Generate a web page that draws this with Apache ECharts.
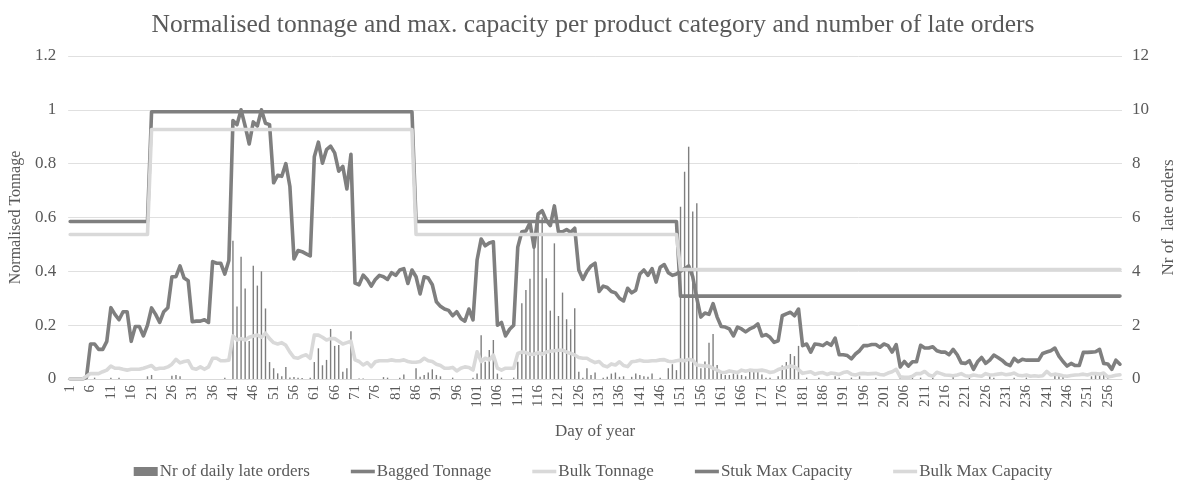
<!DOCTYPE html>
<html>
<head>
<meta charset="utf-8">
<script src="https://cdn.jsdelivr.net/npm/echarts@6/dist/echarts.min.js"></script>
<style>
  html, body { margin: 0; padding: 0; background: #ffffff; }
  #chart { width: 1186px; height: 487px; }
</style>
</head>
<body>
<div id="chart"></div>
<script>
// Day of year, 1..259
const days = [];
for (let d = 1; d <= 259; d++) days.push(String(d));

// Normalised bagged tonnage per day
const baggedTonnage = [
  0, 0, 0, 0, 0.005, 0.13, 0.13, 0.11, 0.11, 0.14,
  0.265, 0.24, 0.22, 0.25, 0.25, 0.14, 0.195, 0.195, 0.16, 0.2,
  0.264, 0.24, 0.21, 0.25, 0.265, 0.38, 0.38, 0.42, 0.375, 0.365,
  0.213, 0.215, 0.215, 0.22, 0.21, 0.436, 0.43, 0.43, 0.39, 0.44,
  0.96, 0.945, 1.0, 0.94, 0.873, 0.955, 0.94, 1.0, 0.95, 0.945,
  0.729, 0.757, 0.753, 0.8, 0.715, 0.446, 0.477, 0.473, 0.465, 0.457,
  0.826, 0.88, 0.802, 0.852, 0.865, 0.84, 0.772, 0.79, 0.706, 0.835,
  0.356, 0.35, 0.386, 0.37, 0.345, 0.37, 0.385, 0.38, 0.37, 0.395,
  0.385, 0.405, 0.41, 0.355, 0.405, 0.38, 0.316, 0.38, 0.375, 0.35,
  0.287, 0.27, 0.26, 0.255, 0.235, 0.25, 0.225, 0.215, 0.26, 0.22,
  0.442, 0.52, 0.495, 0.505, 0.51, 0.2, 0.21, 0.16, 0.185, 0.2,
  0.49, 0.547, 0.55, 0.58, 0.49, 0.613, 0.625, 0.59, 0.57, 0.643,
  0.547, 0.547, 0.555, 0.545, 0.56, 0.405, 0.37, 0.4, 0.42, 0.43,
  0.325, 0.345, 0.34, 0.325, 0.32, 0.3, 0.29, 0.337, 0.32, 0.33,
  0.39, 0.405, 0.385, 0.41, 0.36, 0.415, 0.425, 0.395, 0.385, 0.39,
  0.4, 0.41, 0.42, 0.38, 0.3, 0.23, 0.245, 0.24, 0.28, 0.23,
  0.195, 0.193, 0.186, 0.16, 0.193, 0.186, 0.175, 0.186, 0.193, 0.205,
  0.16, 0.165, 0.155, 0.136, 0.142, 0.235, 0.242, 0.248, 0.235, 0.26,
  0.124, 0.13, 0.1, 0.13, 0.128, 0.124, 0.135, 0.125, 0.152, 0.09,
  0.09, 0.087, 0.075, 0.093, 0.105, 0.124, 0.124, 0.128, 0.128, 0.118,
  0.13, 0.124, 0.1, 0.128, 0.045, 0.065, 0.048, 0.064, 0.064, 0.125,
  0.115, 0.115, 0.12, 0.105, 0.1, 0.1, 0.09, 0.11, 0.09, 0.06,
  0.058, 0.068, 0.036, 0.064, 0.08, 0.058, 0.07, 0.089, 0.08, 0.07,
  0.056, 0.05, 0.077, 0.064, 0.073, 0.07, 0.07, 0.07, 0.07, 0.095,
  0.1, 0.105, 0.115, 0.085, 0.065, 0.048, 0.058, 0.05, 0.05, 0.099,
  0.099, 0.1, 0.101, 0.11, 0.058, 0.056, 0.036, 0.07, 0.055
];

// Normalised bulk tonnage per day
const bulkTonnage = [
  0, 0, 0, 0, 0.01, 0.02, 0.02, 0.02, 0.027, 0.033,
  0.048, 0.04, 0.04, 0.036, 0.033, 0.036, 0.036, 0.036, 0.04, 0.045,
  0.05, 0.036, 0.04, 0.04, 0.045, 0.055, 0.073, 0.06, 0.065, 0.068,
  0.04, 0.036, 0.045, 0.036, 0.045, 0.077, 0.077, 0.068, 0.068, 0.07,
  0.16, 0.145, 0.15, 0.145, 0.155, 0.16, 0.163, 0.155, 0.17, 0.15,
  0.135, 0.13, 0.135, 0.125, 0.1, 0.08, 0.077, 0.085, 0.09, 0.077,
  0.163, 0.163, 0.155, 0.145, 0.15, 0.15, 0.14, 0.13, 0.135, 0.14,
  0.071, 0.065, 0.052, 0.061, 0.046, 0.064, 0.068, 0.068, 0.068, 0.071,
  0.068, 0.068, 0.071, 0.065, 0.062, 0.062, 0.065, 0.077, 0.068, 0.065,
  0.055, 0.05, 0.04, 0.04, 0.043, 0.03, 0.04, 0.045, 0.043, 0.033,
  0.101, 0.065, 0.077, 0.071, 0.089, 0.04, 0.033, 0.04, 0.04, 0.04,
  0.095, 0.1, 0.098, 0.092, 0.092, 0.098, 0.092, 0.1, 0.103, 0.105,
  0.107, 0.107, 0.1, 0.095, 0.089, 0.08, 0.077, 0.077, 0.068, 0.061,
  0.065, 0.05, 0.045, 0.056, 0.052, 0.064, 0.05, 0.046, 0.064, 0.066,
  0.07, 0.066, 0.066, 0.068, 0.068, 0.071, 0.072, 0.066, 0.064, 0.068,
  0.07, 0.068, 0.073, 0.07, 0.052, 0.05, 0.048, 0.048, 0.04, 0.033,
  0.025, 0.024, 0.03, 0.027, 0.024, 0.033, 0.029, 0.033, 0.031, 0.031,
  0.033, 0.03, 0.024, 0.027, 0.035, 0.04, 0.043, 0.048, 0.045, 0.035,
  0.021, 0.024, 0.027, 0.018, 0.022, 0.024, 0.017, 0.022, 0.02, 0.017,
  0.024, 0.027, 0.018, 0.015, 0.02, 0.021, 0.019, 0.02, 0.021, 0.017,
  0.015, 0.022, 0.027, 0.036, 0.008, 0.006, 0.006, 0.01, 0.02, 0.02,
  0.028, 0.015, 0.01, 0.025, 0.02, 0.015, 0.014, 0.012, 0.015, 0.02,
  0.012, 0.01, 0.015, 0.012, 0.01, 0.02, 0.015, 0.016, 0.018, 0.02,
  0.016, 0.018, 0.022, 0.014, 0.012, 0.015, 0.01, 0.012, 0.01, 0.012,
  0.028, 0.015, 0.018, 0.016, 0.012, 0.01, 0.013, 0.015, 0.016, 0.018,
  0.015, 0.02, 0.02, 0.018, 0.022, 0.008, 0.01, 0.014, 0.016
];

// Number of late orders per day
const lateOrders = [
  0, 0, 0, 0, 0, 0, 0.05, 0, 0, 0,
  0.05, 0, 0.05, 0, 0, 0, 0, 0, 0, 0.1,
  0.15, 0, 0, 0, 0, 0.12, 0.15, 0.1, 0, 0,
  0, 0, 0, 0, 0, 0, 0, 0, 0.05, 0,
  5.14, 2.69, 4.54, 3.36, 1.41, 4.21, 3.47, 4.0, 2.62, 0.63,
  0.4, 0.21, 0.1, 0.45, 0.06, 0.07, 0.05, 0.04, 0, 0.05,
  0.63, 1.14, 0.51, 0.71, 1.86, 1.23, 1.26, 0.27, 0.4, 1.77,
  0, 0.02, 0.02, 0, 0, 0, 0, 0.07, 0.05, 0,
  0, 0.05, 0.17, 0, 0, 0.4, 0.08, 0.15, 0.24, 0.36,
  0.15, 0.1, 0, 0, 0.05, 0, 0, 0, 0, 0.05,
  0.2, 1.63, 0.64, 1.08, 1.45, 0.2, 0.05, 0, 0, 0.05,
  0.64, 2.81, 3.31, 3.72, 5.0, 5.8, 6.0, 3.74, 2.54, 5.04,
  2.34, 3.21, 2.22, 1.85, 2.63, 0.27, 0.05, 0.4, 0.15, 0.24,
  0, 0.05, 0.08, 0.2, 0.24, 0.08, 0.1, 0, 0.08, 0.2,
  0.15, 0.1, 0.08, 0.2, 0, 0.05, 0, 0.4, 0.55, 0.33,
  6.4, 7.7, 8.63, 6.22, 6.53, 0.4, 0.65, 1.35, 1.67, 0.52,
  0.2, 0.15, 0.15, 0.2, 0.17, 0.15, 0.1, 0.27, 0.27, 0.27,
  0.17, 0.05, 0.05, 0, 0.1, 0.5, 0.63, 0.93, 0.85, 1.23,
  0, 0.05, 0, 0, 0.05, 0, 0, 0, 0.1, 0.05,
  0, 0, 0.05, 0, 0.1, 0, 0, 0, 0.05, 0,
  0, 0, 0, 0, 0.05, 0.1, 0.1, 0.05, 0, 0.05,
  0, 0, 0.05, 0, 0, 0, 0, 0.1, 0, 0,
  0, 0.05, 0, 0, 0, 0, 0.1, 0.05, 0, 0,
  0, 0, 0.05, 0, 0, 0.05, 0, 0, 0, 0,
  0, 0, 0.15, 0.1, 0.1, 0, 0, 0, 0, 0,
  0, 0.1, 0.15, 0.2, 0.15, 0.1, 0, 0, 0
];

// Maximum capacity (normalised) for bagged ("stuk") products per day
const stukMaxCapacity = [
  0.585, 0.585, 0.585, 0.585, 0.585, 0.585, 0.585, 0.585, 0.585, 0.585,
  0.585, 0.585, 0.585, 0.585, 0.585, 0.585, 0.585, 0.585, 0.585, 0.585,
  0.993, 0.993, 0.993, 0.993, 0.993, 0.993, 0.993, 0.993, 0.993, 0.993,
  0.993, 0.993, 0.993, 0.993, 0.993, 0.993, 0.993, 0.993, 0.993, 0.993,
  0.993, 0.993, 0.993, 0.993, 0.993, 0.993, 0.993, 0.993, 0.993, 0.993,
  0.993, 0.993, 0.993, 0.993, 0.993, 0.993, 0.993, 0.993, 0.993, 0.993,
  0.993, 0.993, 0.993, 0.993, 0.993, 0.993, 0.993, 0.993, 0.993, 0.993,
  0.993, 0.993, 0.993, 0.993, 0.993, 0.993, 0.993, 0.993, 0.993, 0.993,
  0.993, 0.993, 0.993, 0.993, 0.993, 0.585, 0.585, 0.585, 0.585, 0.585,
  0.585, 0.585, 0.585, 0.585, 0.585, 0.585, 0.585, 0.585, 0.585, 0.585,
  0.585, 0.585, 0.585, 0.585, 0.585, 0.585, 0.585, 0.585, 0.585, 0.585,
  0.585, 0.585, 0.585, 0.585, 0.585, 0.585, 0.585, 0.585, 0.585, 0.585,
  0.585, 0.585, 0.585, 0.585, 0.585, 0.585, 0.585, 0.585, 0.585, 0.585,
  0.585, 0.585, 0.585, 0.585, 0.585, 0.585, 0.585, 0.585, 0.585, 0.585,
  0.585, 0.585, 0.585, 0.585, 0.585, 0.585, 0.585, 0.585, 0.585, 0.585,
  0.308, 0.308, 0.308, 0.308, 0.308, 0.308, 0.308, 0.308, 0.308, 0.308,
  0.308, 0.308, 0.308, 0.308, 0.308, 0.308, 0.308, 0.308, 0.308, 0.308,
  0.308, 0.308, 0.308, 0.308, 0.308, 0.308, 0.308, 0.308, 0.308, 0.308,
  0.308, 0.308, 0.308, 0.308, 0.308, 0.308, 0.308, 0.308, 0.308, 0.308,
  0.308, 0.308, 0.308, 0.308, 0.308, 0.308, 0.308, 0.308, 0.308, 0.308,
  0.308, 0.308, 0.308, 0.308, 0.308, 0.308, 0.308, 0.308, 0.308, 0.308,
  0.308, 0.308, 0.308, 0.308, 0.308, 0.308, 0.308, 0.308, 0.308, 0.308,
  0.308, 0.308, 0.308, 0.308, 0.308, 0.308, 0.308, 0.308, 0.308, 0.308,
  0.308, 0.308, 0.308, 0.308, 0.308, 0.308, 0.308, 0.308, 0.308, 0.308,
  0.308, 0.308, 0.308, 0.308, 0.308, 0.308, 0.308, 0.308, 0.308, 0.308,
  0.308, 0.308, 0.308, 0.308, 0.308, 0.308, 0.308, 0.308, 0.308
];

// Maximum capacity (normalised) for bulk products per day
const bulkMaxCapacity = [
  0.537, 0.537, 0.537, 0.537, 0.537, 0.537, 0.537, 0.537, 0.537, 0.537,
  0.537, 0.537, 0.537, 0.537, 0.537, 0.537, 0.537, 0.537, 0.537, 0.537,
  0.927, 0.927, 0.927, 0.927, 0.927, 0.927, 0.927, 0.927, 0.927, 0.927,
  0.927, 0.927, 0.927, 0.927, 0.927, 0.927, 0.927, 0.927, 0.927, 0.927,
  0.927, 0.927, 0.927, 0.927, 0.927, 0.927, 0.927, 0.927, 0.927, 0.927,
  0.927, 0.927, 0.927, 0.927, 0.927, 0.927, 0.927, 0.927, 0.927, 0.927,
  0.927, 0.927, 0.927, 0.927, 0.927, 0.927, 0.927, 0.927, 0.927, 0.927,
  0.927, 0.927, 0.927, 0.927, 0.927, 0.927, 0.927, 0.927, 0.927, 0.927,
  0.927, 0.927, 0.927, 0.927, 0.927, 0.537, 0.537, 0.537, 0.537, 0.537,
  0.537, 0.537, 0.537, 0.537, 0.537, 0.537, 0.537, 0.537, 0.537, 0.537,
  0.537, 0.537, 0.537, 0.537, 0.537, 0.537, 0.537, 0.537, 0.537, 0.537,
  0.537, 0.537, 0.537, 0.537, 0.537, 0.537, 0.537, 0.537, 0.537, 0.537,
  0.537, 0.537, 0.537, 0.537, 0.537, 0.537, 0.537, 0.537, 0.537, 0.537,
  0.537, 0.537, 0.537, 0.537, 0.537, 0.537, 0.537, 0.537, 0.537, 0.537,
  0.537, 0.537, 0.537, 0.537, 0.537, 0.537, 0.537, 0.537, 0.537, 0.537,
  0.407, 0.407, 0.407, 0.407, 0.407, 0.407, 0.407, 0.407, 0.407, 0.407,
  0.407, 0.407, 0.407, 0.407, 0.407, 0.407, 0.407, 0.407, 0.407, 0.407,
  0.407, 0.407, 0.407, 0.407, 0.407, 0.407, 0.407, 0.407, 0.407, 0.407,
  0.407, 0.407, 0.407, 0.407, 0.407, 0.407, 0.407, 0.407, 0.407, 0.407,
  0.407, 0.407, 0.407, 0.407, 0.407, 0.407, 0.407, 0.407, 0.407, 0.407,
  0.407, 0.407, 0.407, 0.407, 0.407, 0.407, 0.407, 0.407, 0.407, 0.407,
  0.407, 0.407, 0.407, 0.407, 0.407, 0.407, 0.407, 0.407, 0.407, 0.407,
  0.407, 0.407, 0.407, 0.407, 0.407, 0.407, 0.407, 0.407, 0.407, 0.407,
  0.407, 0.407, 0.407, 0.407, 0.407, 0.407, 0.407, 0.407, 0.407, 0.407,
  0.407, 0.407, 0.407, 0.407, 0.407, 0.407, 0.407, 0.407, 0.407, 0.407,
  0.407, 0.407, 0.407, 0.407, 0.407, 0.407, 0.407, 0.407, 0.407
];

const FONT = '"Liberation Serif", "DejaVu Serif", serif';
const TEXT = '#595959';
const DARK = '#7f7f7f';
const LIGHT = '#d9d9d9';
const GRID = '#e0e0e0';
// Legend key for the line series: a short thick stroke
const LINE_KEY = 'path://M0,0H24V3.6H0Z';

const chart = echarts.init(document.getElementById('chart'), null, { renderer: 'canvas' });

const lineSeries = (name, data, color, z) => ({
  name, type: 'line', data, yAxisIndex: 0, z,
  symbol: 'none', showSymbol: false, smooth: false,
  lineStyle: { color, width: 3.6, join: 'round', cap: 'round' },
  itemStyle: { color },
  emphasis: { disabled: true }
});

chart.setOption({
  animation: false,
  backgroundColor: '#ffffff',
  textStyle: { fontFamily: FONT },
  title: {
    text: 'Normalised tonnage and max. capacity per product category and number of late orders',
    left: 'center', top: 7,
    textStyle: { fontFamily: FONT, fontSize: 25.5, fontWeight: 'normal', color: TEXT }
  },
  legend: {
    bottom: 2, left: 'center',
    itemWidth: 24, itemHeight: 9, itemGap: 41, symbolKeepAspect: true,
    textStyle: { fontFamily: FONT, fontSize: 17, color: TEXT, padding: [0, 0, 0, -3] },
    data: [
      { name: 'Nr of daily late orders', icon: 'rect' },
      { name: 'Bagged Tonnage', icon: LINE_KEY },
      { name: 'Bulk Tonnage', icon: LINE_KEY },
      { name: 'Stuk Max Capacity', icon: LINE_KEY },
      { name: 'Bulk Max Capacity', icon: LINE_KEY }
    ]
  },
  grid: { left: 64, right: 64, top: 56, bottom: 108, containLabel: false },
  xAxis: {
    type: 'category', data: days, boundaryGap: true,
    name: 'Day of year', nameLocation: 'middle', nameGap: 44,
    nameTextStyle: { fontFamily: FONT, fontSize: 17, color: TEXT },
    axisLine: { show: true, lineStyle: { color: LIGHT, width: 1 } },
    axisTick: { show: false },
    axisLabel: { interval: 4, rotate: 90, fontFamily: FONT, fontSize: 15, color: TEXT, margin: 6 },
    splitLine: { show: false }
  },
  yAxis: [
    {
      type: 'value', min: 0, max: 1.2, interval: 0.2,
      name: 'Normalised Tonnage', nameLocation: 'middle', nameGap: 41, nameRotate: 90,
      nameTextStyle: { fontFamily: FONT, fontSize: 16, color: TEXT },
      axisLine: { show: false }, axisTick: { show: false },
      axisLabel: { fontFamily: FONT, fontSize: 17, color: TEXT, margin: 12 },
      splitLine: { lineStyle: { color: GRID, width: 1 } }
    },
    {
      type: 'value', min: 0, max: 12, interval: 2,
      name: 'Nr of  late orders', nameLocation: 'middle', nameGap: 36, nameRotate: 90,
      nameTextStyle: { fontFamily: FONT, fontSize: 17, color: TEXT },
      axisLine: { show: false }, axisTick: { show: false },
      axisLabel: { fontFamily: FONT, fontSize: 17, color: TEXT, margin: 10 },
      splitLine: { show: false }
    }
  ],
  series: [
    {
      name: 'Nr of daily late orders', type: 'bar', data: lateOrders, yAxisIndex: 1,
      barWidth: 1.4, z: 1,
      itemStyle: { color: DARK },
      emphasis: { disabled: true }
    },
    lineSeries('Bagged Tonnage', baggedTonnage, DARK, 2),
    lineSeries('Bulk Tonnage', bulkTonnage, LIGHT, 3),
    lineSeries('Stuk Max Capacity', stukMaxCapacity, DARK, 4),
    lineSeries('Bulk Max Capacity', bulkMaxCapacity, LIGHT, 5)
  ]
});
</script>
</body>
</html>
